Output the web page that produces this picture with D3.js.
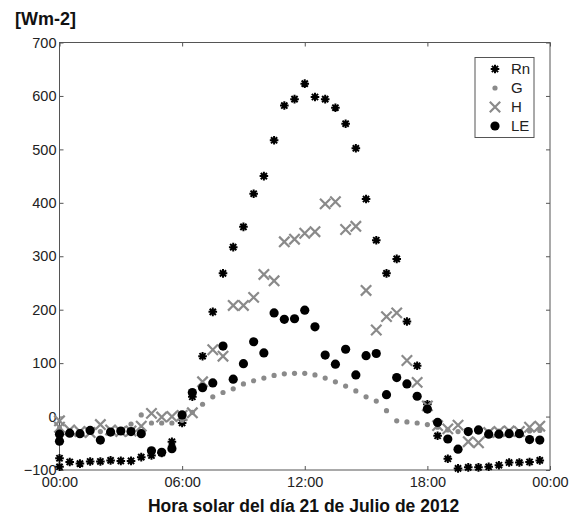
<!DOCTYPE html>
<html><head><meta charset="utf-8">
<script src="https://cdn.jsdelivr.net/npm/d3@7"></script>
<style>body{margin:0;background:#fff;} svg{display:block;font-family:"Liberation Sans",Arial,sans-serif;}</style>
</head><body>
<svg id="c" width="577" height="521"></svg>
<script>
// half-hour time stamps (the first instant appears twice in the source figure)
const times = ["00:00","00:00","00:30","01:00","01:30","02:00","02:30","03:00","03:30","04:00","04:30","05:00","05:30",
  "06:00","06:30","07:00","07:30","08:00","08:30","09:00","09:30","10:00","10:30","11:00","11:30",
  "12:00","12:30","13:00","13:30","14:00","14:30","15:00","15:30","16:00","16:30","17:00","17:30",
  "18:00","18:30","19:00","19:30","20:00","20:30","21:00","21:30","22:00","22:30","23:00","23:30"];
const Rn = [-94,-78,-85,-88,-84,-84,-82,-83,-83,-76,-73,-68,-47,
  -12,37,113,196,268,317,355,417,450,517,582,594,
  623,598,594,578,548,502,407,330,268,295,178,95,
  23,-36,-79,-97,-95,-95,-94,-91,-86,-86,-85,-82];
const G = [-30,-22,-28,-28,-28,-28,-27,-26,-14,3,-12,-12,-12,
  -7,8,23,37,45,52,61,67,72,77,80,81,
  81,78,72,65,57,48,37,29,11,-8,-10,-12,
  -15,-20,-25,-28,-28,-29,-28,-27,-27,-28,-27,-26];
const H = [-20,-8,-25,-28,-30,-15,-25,-28,-27,-18,6,-1,0,
  2,7,65,125,113,208,208,223,266,254,327,332,
  343,346,398,402,350,356,236,162,187,194,105,64,
  20,-17,-23,-16,-47,-49,-30,-28,-27,-28,-20,-18];
const LE = [-46,-33,-31,-32,-26,-44,-29,-27,-28,-32,-64,-67,-60,
  3,45,54,63,132,70,99,140,119,194,182,183,
  199,168,115,98,126,78,114,118,41,73,61,38,
  14,-11,-42,-61,-28,-25,-33,-33,-32,-32,-43,-44];
const yTicks = [-100,0,100,200,300,400,500,600,700];
const xTicks = ["00:00","06:00","12:00","18:00","00:00"];
const seriesNames = ["Rn","G","H","LE"];
const yLabel = "[Wm-2]";
const xLabel = "Hora solar del día 21 de Julio de 2012";

const toHours = s => { const [h,m] = s.split(":").map(Number); return h + m/60; };
const svg = d3.select("#c");
const x = d3.scaleLinear().domain([0,24]).range([59.5,550]);
const y = d3.scaleLinear().domain([-100,700]).range([470,42.5]);
const axisCol = "#555", textCol = "#222";
const gray = "#8a8a8a";

// frame
svg.append("rect").attr("x",x(0)).attr("y",y(700)).attr("width",x(24)-x(0)).attr("height",y(-100)-y(700))
  .attr("fill","none").attr("stroke",axisCol).attr("stroke-width",1);

// y axis left & right (inward ticks)
const yl = svg.append("g").attr("transform",`translate(${x(0)},0)`)
  .call(d3.axisLeft(y).tickValues(yTicks).tickSizeInner(-4).tickSizeOuter(0).tickPadding(3));
const yr = svg.append("g").attr("transform",`translate(${x(24)},0)`)
  .call(d3.axisRight(y).tickValues(yTicks).tickSizeInner(-4).tickSizeOuter(0).tickFormat(""));
// x axis bottom & top
const xPos = xTicks.map((s,i)=> i*6);
const xb = svg.append("g").attr("transform",`translate(0,${y(-100)})`)
  .call(d3.axisBottom(x).tickValues(xPos).tickSizeInner(-4).tickSizeOuter(0).tickPadding(7)
    .tickFormat((d,i)=>xTicks[i]));
const xt = svg.append("g").attr("transform",`translate(0,${y(700)})`)
  .call(d3.axisTop(x).tickValues(xPos).tickSizeInner(-4).tickSizeOuter(0).tickFormat(""));
[yl,yr,xb,xt].forEach(g=>{
  g.select(".domain").remove();
  g.selectAll(".tick line").attr("stroke",axisCol);
  g.selectAll("text").attr("fill",textCol).style("font-size","14.5px").style("font-family","'Liberation Sans',Arial,sans-serif");
});

// markers
function star(g, s){
  const d = `M${-s},0L${s},0M0,${-s}L0,${s}M${-s*0.72},${-s*0.72}L${s*0.72},${s*0.72}M${-s*0.72},${s*0.72}L${s*0.72},${-s*0.72}`;
  g.append("path").attr("d",d).attr("stroke","#000").attr("stroke-width",2).attr("fill","none");
  g.append("circle").attr("r",s*0.45).attr("fill","#000");
}
function cross(g, s){
  g.append("path").attr("d",`M${-s},${-s}L${s},${s}M${-s},${s}L${s},${-s}`)
   .attr("stroke",gray).attr("stroke-width",2.2).attr("fill","none");
}
const data = times.map((t,i)=>({t:toHours(t), Rn:Rn[i], G:G[i], H:H[i], LE:LE[i]}));

const gRn = svg.append("g");
data.forEach(d=>{ star(gRn.append("g").attr("transform",`translate(${x(d.t)},${y(d.Rn)})`), 4.3); });
svg.append("g").selectAll("circle").data(data).join("circle")
  .attr("cx",d=>x(d.t)).attr("cy",d=>y(d.G)).attr("r",2.6).attr("fill",gray);
const gH = svg.append("g");
data.forEach(d=>{ cross(gH.append("g").attr("transform",`translate(${x(d.t)},${y(d.H)})`), 5.2); });
svg.append("g").selectAll("circle").data(data).join("circle")
  .attr("cx",d=>x(d.t)).attr("cy",d=>y(d.LE)).attr("r",4.6).attr("fill","#000");

// legend
const lg = svg.append("g");
lg.append("rect").attr("x",475).attr("y",57.5).attr("width",59).attr("height",80)
  .attr("fill","#fff").attr("stroke",axisCol).attr("stroke-width",1);
seriesNames.forEach((n,i)=>{
  const cy = 69 + i*19;
  const m = lg.append("g").attr("transform",`translate(495,${cy})`);
  if(n==="Rn") star(m,4.3);
  else if(n==="G") m.append("circle").attr("r",2.6).attr("fill",gray);
  else if(n==="H") cross(m,5.2);
  else m.append("circle").attr("r",4.6).attr("fill","#000");
  lg.append("text").attr("x",511).attr("y",cy).attr("dy","0.36em").attr("fill",textCol)
    .style("font-size","15px").text(n);
});

// labels
svg.append("text").attr("x",15).attr("y",25).attr("font-weight","bold").style("font-size","18px").attr("fill","#111").text(yLabel);
svg.append("text").attr("x",303.5).attr("y",512).attr("text-anchor","middle").attr("font-weight","bold")
  .style("font-size","17.5px").attr("fill","#111").text(xLabel);
</script>
</body></html>
